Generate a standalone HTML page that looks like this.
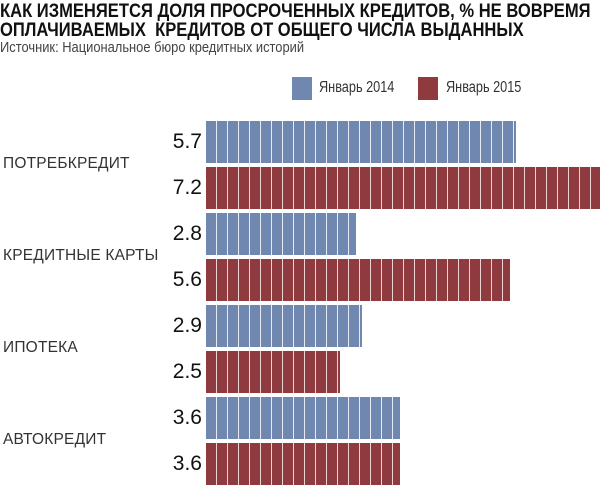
<!DOCTYPE html>
<html><head><meta charset="utf-8"><style>
body{margin:0;width:600px;height:490px;background:#fff;overflow:hidden;position:relative;font-family:"Liberation Sans","DejaVu Sans",sans-serif;color:#111}
.t{position:absolute;left:0;font-weight:bold;font-size:19px;white-space:nowrap;transform-origin:0 0;letter-spacing:0}
.s{position:absolute;left:0;top:39px;font-size:15px;color:#444;white-space:nowrap;transform-origin:0 0;transform:scaleX(0.86)}
.lb{position:absolute;width:20px;height:23px;top:77px}
.lt{position:absolute;top:79px;font-size:15.5px;color:#333;transform-origin:0 0;transform:scaleX(0.82);white-space:nowrap}
.bar{position:absolute;left:206px;height:42px}
.b{background:repeating-linear-gradient(90deg,#7088b0 0,#7088b0 10px,#e6ebf3 10px,#e6ebf3 11px)}
.r{background:repeating-linear-gradient(90deg,#8e3a3e 0,#8e3a3e 10px,#ecd3d3 10px,#ecd3d3 11px)}
.n{position:absolute;left:160px;width:42px;text-align:right;font-size:21px;color:#111}
.c{position:absolute;left:3px;font-size:15.5px;color:#333;white-space:nowrap;letter-spacing:0.2px}
</style></head><body>
<div class="t" style="top:1px;transform:scaleX(0.872)">КАК ИЗМЕНЯЕТСЯ ДОЛЯ ПРОСРОЧЕННЫХ КРЕДИТОВ, % НЕ ВОВРЕМЯ</div>
<div class="t" style="top:20px;transform:scaleX(0.872)">ОПЛАЧИВАЕМЫХ &nbsp;КРЕДИТОВ ОТ ОБЩЕГО ЧИСЛА ВЫДАННЫХ</div>
<div class="s">Источник: Национальное бюро кредитных историй</div>
<div class="lb" style="left:292px;background:#7088b0"></div><div class="lt" style="left:319px">Январь 2014</div>
<div class="lb" style="left:418px;background:#8e3a3e"></div><div class="lt" style="left:446px">Январь 2015</div>

<div class="c" style="top:155px">ПОТРЕБКРЕДИТ</div>
<div class="c" style="top:247px">КРЕДИТНЫЕ КАРТЫ</div>
<div class="c" style="top:339px">ИПОТЕКА</div>
<div class="c" style="top:431px">АВТОКРЕДИТ</div>

<div class="bar b" style="top:121px;width:310px"></div><div class="n" style="top:130px">5.7</div>
<div class="bar r" style="top:167px;width:394px"></div><div class="n" style="top:176px">7.2</div>
<div class="bar b" style="top:213px;width:150px"></div><div class="n" style="top:222px">2.8</div>
<div class="bar r" style="top:259px;width:304px"></div><div class="n" style="top:268px">5.6</div>
<div class="bar b" style="top:305px;width:156px"></div><div class="n" style="top:314px">2.9</div>
<div class="bar r" style="top:351px;width:134px"></div><div class="n" style="top:360px">2.5</div>
<div class="bar b" style="top:397px;width:194px"></div><div class="n" style="top:406px">3.6</div>
<div class="bar r" style="top:443px;width:194px"></div><div class="n" style="top:452px">3.6</div>
</body></html>
